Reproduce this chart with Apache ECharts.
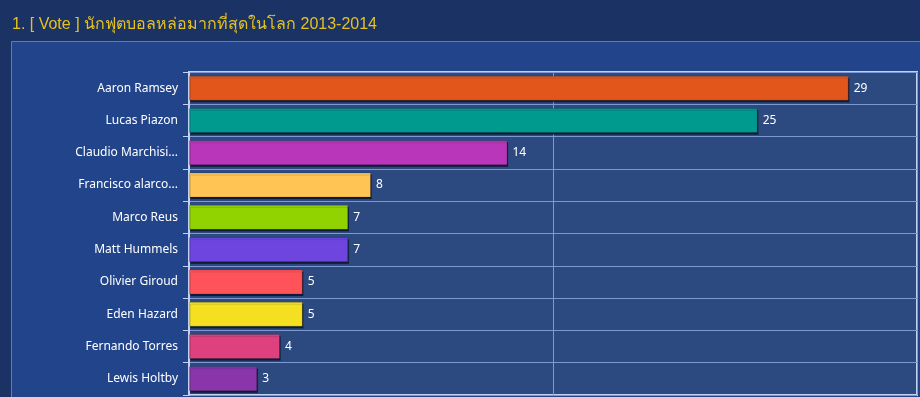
<!DOCTYPE html>
<html>
<head>
<meta charset="utf-8">
<script src="https://cdn.jsdelivr.net/npm/echarts@6/dist/echarts.min.js"></script>
<style>
  html, body { margin: 0; padding: 0; background: #1b3264; }
  #chart { width: 920px; height: 397px; }
</style>
</head>
<body>
<div id="chart"></div>
<script>
// players (top to bottom) and their vote counts
const players = ['Aaron Ramsey', 'Lucas Piazon', 'Claudio Marchisi...', 'Francisco alarco...', 'Marco Reus',
  'Matt Hummels', 'Olivier Giroud', 'Eden Hazard', 'Fernando Torres', 'Lewis Holtby'];
const votes = [29, 25, 14, 8, 7, 7, 5, 5, 4, 3];
const barColors = ['#e2561c', '#009a8e', '#b935b9', '#ffc453', '#91d300', '#6e45df', '#ff5359', '#f4e021', '#df417f', '#8a35a9'];
const xTicks = [0, 16, 32];

const chart = echarts.init(document.getElementById('chart'));

const option = {
  backgroundColor: '#1b3264',
  animation: false,
  title: {
    text: '1. [ Vote ] นักฟุตบอลหล่อมากที่สุดในโลก 2013-2014',
    left: 7,
    top: 12,
    textStyle: { color: '#e6c21f', fontSize: 16, fontWeight: 'normal', fontFamily: 'Liberation Sans, Noto Sans, sans-serif' }
  },
  graphic: [{
    type: 'rect',
    z: -10,
    shape: { x: 11.5, y: 41.5, width: 920, height: 400 },
    style: { fill: '#22448a', stroke: '#5a7cc4', lineWidth: 1 }
  }],
  grid: {
    show: true,
    left: 189,
    right: 3,
    top: 72,
    height: 323,
    backgroundColor: '#2d4a80',
    borderColor: '#c3d1f1',
    borderWidth: 2
  },
  xAxis: {
    type: 'value',
    min: xTicks[0],
    max: xTicks[xTicks.length - 1],
    interval: xTicks[1] - xTicks[0],
    axisLabel: { show: false },
    axisLine: { show: false },
    axisTick: { show: false },
    splitLine: { lineStyle: { color: '#7d99d5', width: 1 } }
  },
  yAxis: {
    type: 'category',
    inverse: true,
    data: players,
    axisLine: { lineStyle: { color: '#c3d1f1', width: 2 } },
    axisTick: { show: true, length: 6, lineStyle: { color: '#c3d1f1', width: 1 } },
    axisLabel: { color: '#ffffff', fontSize: 12, margin: 11, fontFamily: 'Noto Sans, sans-serif' },
    splitLine: { show: true, lineStyle: { color: '#7d99d5', width: 1 } }
  },
  series: [{
    type: 'bar',
    data: votes.map((v, i) => ({ value: v, itemStyle: { color: barColors[i] } })),
    barWidth: 25,
    itemStyle: {
      borderColor: 'rgba(0,0,0,0.15)',
      borderWidth: 1,
      shadowColor: 'rgba(10,20,40,0.85)',
      shadowOffsetX: 1,
      shadowOffsetY: 2,
      shadowBlur: 0
    },
    label: {
      show: true,
      position: 'right',
      distance: 5,
      color: '#ffffff',
      fontSize: 12,
      fontFamily: 'Noto Sans, sans-serif'
    }
  }]
};

chart.setOption(option);
</script>
</body>
</html>
